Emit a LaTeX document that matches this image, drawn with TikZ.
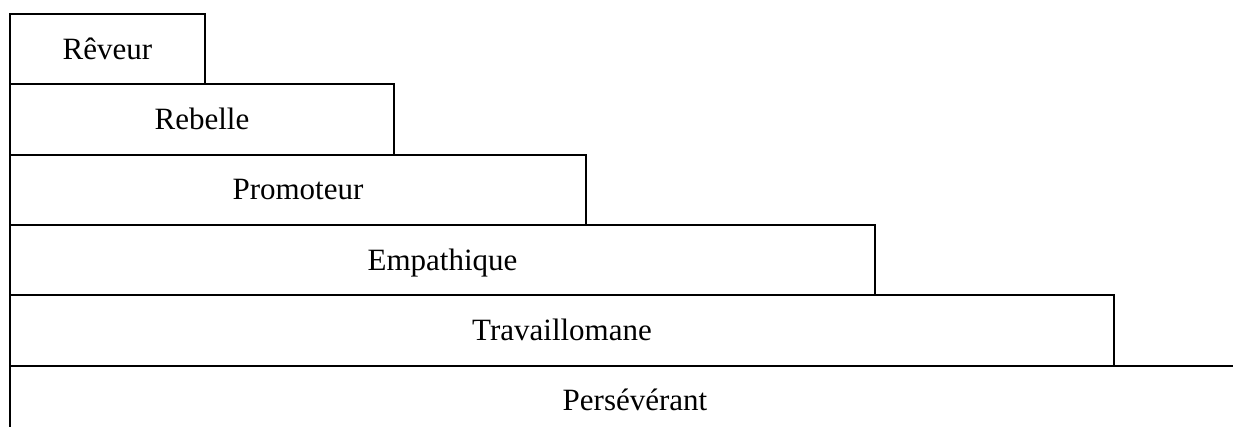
\documentclass[tikz,border=0pt]{standalone}
\usepackage{fontspec}
\setmainfont{Liberation Serif}
\tikzset{
  tier/.style={draw=black, line width=2pt, rectangle, anchor=north west, inner sep=0pt,
    minimum height=70.3pt, text height=20.5pt, text depth=0pt,
    font=\fontsize{31}{36}\selectfont},
}
\begin{document}
\begin{tikzpicture}[x=1pt,y=-1pt]
\useasboundingbox (0,0) rectangle (1233,427);
\clip (0,0) rectangle (1233,427);
\node[tier, minimum width=195pt] (reveur) at (9,13) {Rêveur};
\node[tier, minimum width=384pt] (rebelle) at (9,83.3) {Rebelle};
\node[tier, minimum width=576pt] (promoteur) at (9,153.6) {Promoteur};
\node[tier, minimum width=865pt] (empathique) at (9,223.9) {Empathique};
\node[tier, minimum width=1104pt] (travail) at (9,294.2) {Travaillomane};
\node[tier, minimum width=1250pt] (persev) at (9,364.5) {Persévérant};
\end{tikzpicture}
\end{document}
